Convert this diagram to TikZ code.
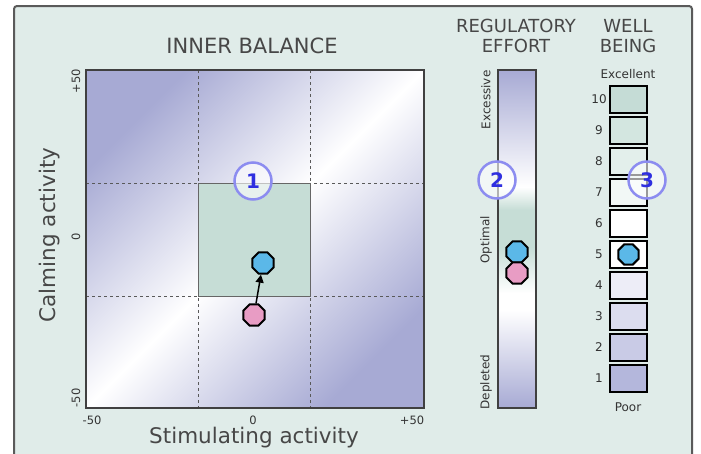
\documentclass[tikz,border=0pt]{standalone}
\usepackage{fontspec}
\setmainfont{DejaVu Sans}
\usetikzlibrary{shapes.geometric,arrows.meta}
\definecolor{framebg}{HTML}{E0ECE9}
\definecolor{framecol}{HTML}{5A5A5A}
\definecolor{purp}{HTML}{A7AAD4}
\definecolor{grn}{HTML}{C6DDD6}
\definecolor{octblue}{HTML}{5BB8E8}
\definecolor{octpink}{HTML}{E89CC4}
\definecolor{ringcol}{HTML}{8C8CF0}
\definecolor{numcol}{HTML}{2F2FE0}
\definecolor{txtcol}{HTML}{474747}
\definecolor{w10}{HTML}{C5DCD6}
\definecolor{w9}{HTML}{D3E6E0}
\definecolor{w8}{HTML}{E3EFEB}
\definecolor{w7}{HTML}{F2F8F6}
\definecolor{w6}{HTML}{FFFFFF}
\definecolor{w5}{HTML}{FFFFFF}
\definecolor{w4}{HTML}{EDEDF7}
\definecolor{w3}{HTML}{DCDDEF}
\definecolor{w2}{HTML}{C9CBE6}
\definecolor{w1}{HTML}{B4B7DC}
\pgfdeclarehorizontalshading{plotshade}{100bp}{color(0bp)=(purp); color(25bp)=(purp); color(50bp)=(white); color(75bp)=(purp); color(100bp)=(purp)}
\pgfdeclareverticalshading{barshade}{100bp}{color(0bp)=(purp); color(25bp)=(purp); color(39.5bp)=(white); color(42bp)=(white); color(48.8bp)=(grn); color(54.3bp)=(grn); color(57.7bp)=(white); color(75bp)=(purp); color(100bp)=(purp)}
\tikzset{
  octa/.style={regular polygon, regular polygon sides=8, minimum size=23pt, inner sep=0pt, draw=black, line width=2pt},
  bluo/.style={octa, fill=octblue},
  pinko/.style={octa, fill=octpink},
  ring/.style={circle, minimum size=37pt, inner sep=0pt, draw=ringcol, line width=2.5pt, fill=white, fill opacity=0.6, text opacity=1, text=numcol, font=\bfseries\fontsize{20}{20}\selectfont},
  title/.style={text=txtcol, font=\fontsize{18}{18}\selectfont, inner sep=0pt},
  axlab/.style={text=txtcol, font=\fontsize{21.5}{21.5}\selectfont, inner sep=0pt},
  tick/.style={text=black!80, font=\fontsize{11.5}{11.5}\selectfont, inner sep=0pt},
  small/.style={text=black!80, font=\fontsize{12}{12}\selectfont, inner sep=0pt},
  wbox/.style={draw=black, line width=1.3pt, minimum width=37pt, minimum height=27pt, inner sep=0pt},
  grid/.style={draw=black!65, dashed, line width=0.8pt}
}
\begin{document}
\begin{tikzpicture}[x=1pt,y=-1pt]
\useasboundingbox (0,0) rectangle (701,453);
\clip (0,0) rectangle (701,453);
\fill[white] (0,0) rectangle (701,453);
% frame
\draw[framecol, line width=2pt, fill=framebg, rounded corners=3pt] (14,6) rectangle (692,480);
% titles
\node[title, font=\fontsize{21}{21}\selectfont] (tib) at (252,46) {INNER BALANCE};
\node[title] (tre1) at (516,26) {REGULATORY};
\node[title] (tre2) at (516,46) {EFFORT};
\node[title] (twb1) at (628,26) {WELL};
\node[title] (twb2) at (628,46) {BEING};
% plot
\shade[shading=plotshade, shading angle=-45] (86,70) rectangle (424,408);
\draw[grid] (198,70) -- (198,408);
\draw[grid] (310,70) -- (310,408);
\draw[grid] (86,183) -- (424,183);
\draw[grid] (86,296) -- (424,296);
\draw[black!60, line width=0.8pt, fill=grn] (198,183) rectangle (310,296);
\draw[black!75, line width=1.5pt] (86,70) rectangle (424,408);
% tick labels
\node[tick, rotate=90] (ty1) at (76,81) {+50};
\node[tick, rotate=90] (ty2) at (76,237) {0};
\node[tick, rotate=90] (ty3) at (76,398) {-50};
\node[tick] (tx1) at (92,420) {-50};
\node[tick] (tx2) at (253,420) {0};
\node[tick] (tx3) at (412,420) {+50};
\node[axlab, rotate=90] (ylab) at (50,235) {Calming activity};
\node[axlab] (xlab) at (254,438) {Stimulating activity};
% points
\node[bluo] (b1) at (263,263) {};
\node[pinko] (p1) at (254,315) {};
\draw[-{Triangle[length=8pt,width=8pt]}, line width=1.5pt] (p1) -- (b1);
% regulatory bar
\shade[shading=barshade] (498,70) rectangle (536,408);
\draw[black!75, line width=1.3pt] (498,70) rectangle (536,408);
\node[small, rotate=90] (lex) at (486,100) {Excessive};
\node[small, rotate=90] (lop) at (486,240) {Optimal};
\node[small, rotate=90] (lde) at (486,382) {Depleted};
\node[bluo] (b2) at (517,252) {};
\node[pinko] (p2) at (517,273) {};
% well being boxes
\node[small] (exc) at (628,74) {Excellent};
\node[small] (poor) at (628,407) {Poor};
\foreach \i in {1,...,10}{
  \pgfmathsetmacro{\yy}{86+(10-\i)*31+13.5}
  \node[wbox, fill=w\i] (wb\i) at (628.5,\yy) {};
  \node[small] (wn\i) at (599,\yy) {\i};
}
\node[bluo, minimum size=22pt] (b3) at (wb5) {};
% rings
\node[ring] (r1) at (253,181) {1};
\node[ring] (r2) at (497,180) {2};
\node[ring] (r3) at (647,180) {3};
\end{tikzpicture}
\end{document}
